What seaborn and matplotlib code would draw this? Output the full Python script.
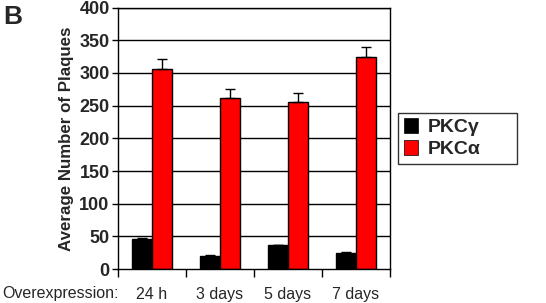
import matplotlib
matplotlib.use("Agg")
import matplotlib.pyplot as plt
import seaborn as sns
import pandas as pd
import numpy as np
from matplotlib.patches import Patch

categories = ["24 h", "3 days", "5 days", "7 days"]
series = ["PKCγ", "PKCα"]
pkc_gamma = [46, 20, 37, 25]
pkc_gamma_err = [2, 1.5, 0.5, 1.5]
pkc_alpha = [306, 262, 256, 324]
pkc_alpha_err = [15, 14, 14, 15]
yticks = [0, 50, 100, 150, 200, 250, 300, 350, 400]
colors = ["#000000", "#ff0000"]

sns.set_theme(style="white")
plt.rcParams['font.family'] = ['Liberation Sans', 'DejaVu Sans']

df = pd.DataFrame({
    "Time": categories * 2,
    "Series": [series[0]] * 4 + [series[1]] * 4,
    "Value": pkc_gamma + pkc_alpha,
})

fig = plt.figure(figsize=(5.46, 3.03), dpi=100)
ax = fig.add_axes([0.216, 0.112, 0.498, 0.863])

sns.barplot(data=df, x="Time", y="Value", hue="Series", order=categories,
            hue_order=series, palette=colors, width=0.58, ax=ax,
            edgecolor="black", linewidth=1, legend=False, saturation=1)

errs = pkc_gamma_err + pkc_alpha_err
vals = pkc_gamma + pkc_alpha
bars = [p for p in ax.patches if p.get_width() > 0][:8]
for bar, v, e in zip(bars, vals, errs):
    xc = bar.get_x() + bar.get_width() / 2
    ax.errorbar(xc, v, yerr=[[0], [e]], fmt="none", ecolor="black",
                elinewidth=1, capsize=3.5, capthick=1, zorder=1)

ax.set_ylim(0, 400)
ax.set_xlim(-0.5, 3.5)
ax.set_yticks(yticks)
ax.set_yticklabels([str(t) for t in yticks], fontweight="bold", fontsize=13)
for t in yticks[1:]:
    ax.axhline(t, color="black", linewidth=1, zorder=0)

ax.set_xticks([-0.5, 0.5, 1.5, 2.5, 3.5])
ax.set_xticklabels([])
ax.set_xticks([0, 1, 2, 3], minor=True)
ax.set_xticklabels(categories, minor=True, fontsize=11.5)
ax.tick_params(axis="x", which="major", direction="out", length=6, width=1, color="black", bottom=True)
ax.tick_params(axis="x", which="minor", length=0, pad=13)
ax.tick_params(axis="y", direction="out", length=4, width=1, color="black", left=True, pad=2)
ax.set_xlabel("")
ax.set_ylabel("Average Number of Plaques", fontweight="bold", fontsize=12.2, labelpad=4)

for s in ax.spines.values():
    s.set_color("black")
    s.set_linewidth(1)
    s.set_visible(True)

fig.text(0.004, 0.033, "Overexpression:", fontsize=11.5, ha="left", va="center")
fig.text(0.006, 0.945, "B", fontsize=19, fontweight="bold", ha="left", va="center")

handles = [Patch(facecolor=c, edgecolor="black", linewidth=0.5) for c in colors]
leg = ax.legend(handles, series, loc="center left", mode="expand",
                bbox_to_anchor=(1.029, 0.4, 0.4375, 0.2),
                frameon=True, fancybox=False, edgecolor="black",
                prop={"weight": "bold", "size": 14}, handlelength=0.75,
                handleheight=0.75, borderpad=0.3, labelspacing=0.2, handletextpad=0.5,
                borderaxespad=0)
leg.get_frame().set_linewidth(1)

fig.savefig("out.png", dpi=100)
